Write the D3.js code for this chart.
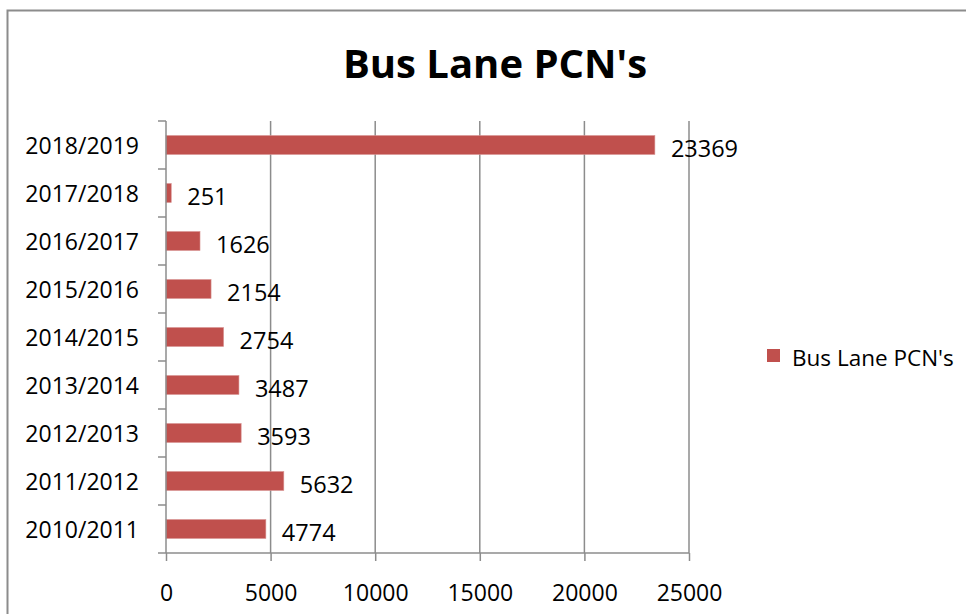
<!DOCTYPE html>
<html>
<head>
<meta charset="utf-8">
<script src="https://cdn.jsdelivr.net/npm/d3@7"></script>
<style>
  body { margin: 0; background: #fff; }
  text { font-family: "Open Sans", sans-serif; fill: #000; }
</style>
</head>
<body>
<script>
// data
var seasons = ["2010/2011", "2011/2012", "2012/2013", "2013/2014", "2014/2015",
               "2015/2016", "2016/2017", "2017/2018", "2018/2019"];
var pcns = [4774, 5632, 3593, 3487, 2754, 2154, 1626, 251, 23369];
var xTicks = [0, 5000, 10000, 15000, 20000, 25000];
var seriesName = "Bus Lane PCN's";

//positioning/sizing
var svg_dx = 966, svg_dy = 614,
    plot = {left: 166, right: 689, top: 121, bottom: 553};

var svg = d3.select("body").append("svg")
    .attr("width", svg_dx)
    .attr("height", svg_dy);

// outer chart border (runs off the right and bottom edges)
svg.append("rect")
   .attr("x", 7.5).attr("y", 10.5)
   .attr("width", 1000).attr("height", 700)
   .attr("fill", "none")
   .attr("stroke", "#8c8c8c")
   .attr("stroke-width", 2);

var x = d3.scaleLinear().domain([0, 25000]).range([plot.left, plot.right]);
var y = d3.scaleBand().domain(seasons.slice().reverse())
          .range([plot.top, plot.bottom])
          .paddingInner(0.6).paddingOuter(0.3);
var band = (plot.bottom - plot.top) / seasons.length;

// vertical grid lines
svg.append("g")
   .selectAll("line")
   .data(xTicks.slice(1))
   .enter()
   .append("line")
   .attr("x1", d => x(d)).attr("x2", d => x(d))
   .attr("y1", plot.top).attr("y2", plot.bottom)
   .attr("stroke", "#8c8c8c")
   .attr("stroke-width", 1.5);

// bars
svg.append("g")
   .selectAll("rect")
   .data(seasons)
   .enter()
   .append("rect")
   .attr("x", x(0))
   .attr("y", d => y(d) + y.bandwidth() / 2 - 9.5)
   .attr("width", (d, i) => x(pcns[i]) - x(0))
   .attr("height", 19)
   .attr("fill", "#c0504d")
   .attr("stroke", "#d99594")
   .attr("stroke-width", 0.6);

// data labels
svg.append("g")
   .selectAll("text")
   .data(seasons)
   .enter()
   .append("text")
   .attr("x", (d, i) => x(pcns[i]) + 16)
   .attr("y", d => y(d) + y.bandwidth() / 2 + 12)
   .attr("font-size", 23.5)
   .text((d, i) => pcns[i]);

// x axis
var axis_x = d3.axisBottom(x).tickValues(xTicks).tickSize(8).tickPadding(24)
               .tickFormat(d3.format("d"));
var gx = svg.append("g")
   .attr("transform", "translate(0," + plot.bottom + ")")
   .call(axis_x);
gx.select(".domain").remove();
gx.append("line").attr("x1", plot.left - 8).attr("x2", plot.right)
  .attr("stroke", "#8c8c8c").attr("stroke-width", 1.5);
gx.selectAll(".tick line").attr("stroke", "#8c8c8c").attr("stroke-width", 1.5);
gx.selectAll(".tick text").attr("font-size", 23).attr("font-family", "Open Sans").attr("fill", "#000");

// y axis: line, boundary ticks, category labels
var gy = svg.append("g");
gy.append("line")
  .attr("x1", plot.left).attr("x2", plot.left)
  .attr("y1", plot.top).attr("y2", plot.bottom)
  .attr("stroke", "#8c8c8c").attr("stroke-width", 1.5);
gy.selectAll(".btick")
  .data(d3.range(seasons.length))
  .enter()
  .append("line")
  .attr("x1", plot.left - 8).attr("x2", plot.left)
  .attr("y1", i => plot.top + i * band).attr("y2", i => plot.top + i * band)
  .attr("stroke", "#8c8c8c").attr("stroke-width", 1.5);
gy.selectAll("text")
  .data(seasons)
  .enter()
  .append("text")
  .attr("x", 139)
  .attr("y", d => y(d) + y.bandwidth() / 2 + 9)
  .attr("text-anchor", "end")
  .attr("font-size", 23)
  .text(d => d);

// title
svg.append("text")
   .attr("x", 495).attr("y", 78)
   .attr("text-anchor", "middle")
   .attr("font-size", 40)
   .attr("font-weight", "bold")
   .text(seriesName);

// legend
svg.append("rect")
   .attr("x", 767).attr("y", 349)
   .attr("width", 13).attr("height", 13)
   .attr("fill", "#c0504d");
svg.append("text")
   .attr("x", 792).attr("y", 366)
   .attr("font-size", 22.5)
   .text(seriesName);
</script>
</body>
</html>
